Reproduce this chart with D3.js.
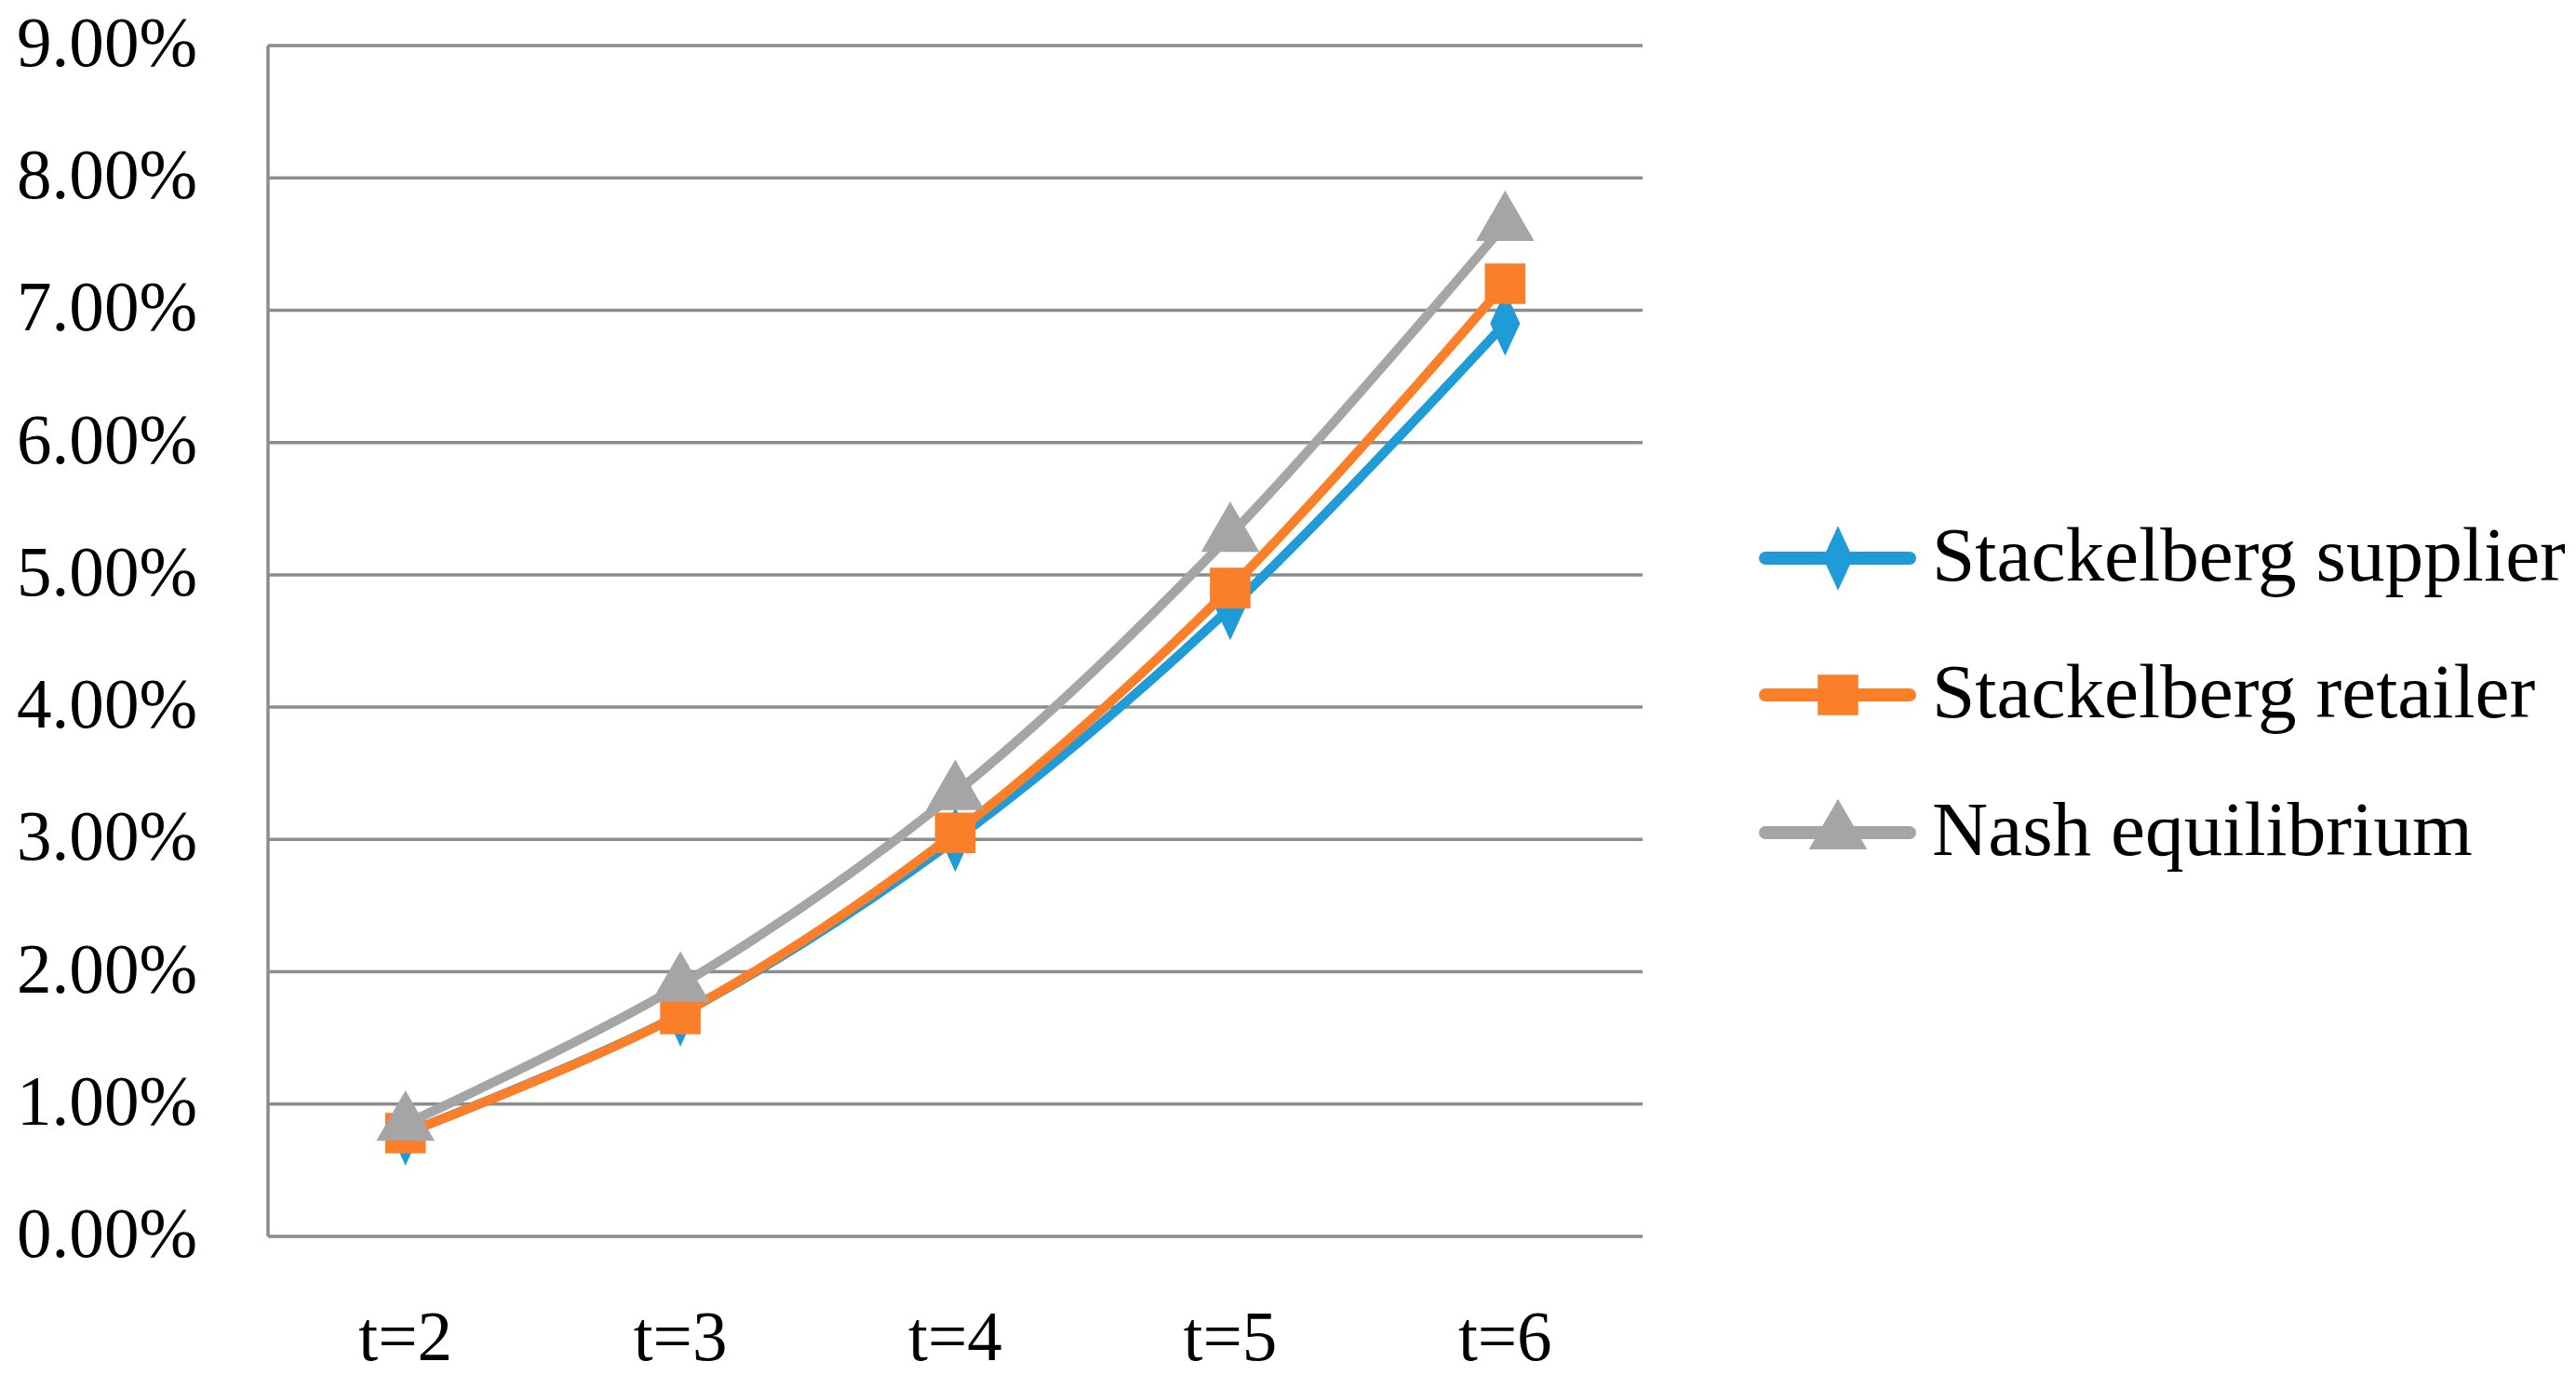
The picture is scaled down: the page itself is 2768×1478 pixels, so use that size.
<!DOCTYPE html>
<html><head><meta charset="utf-8">
<script src="https://cdn.jsdelivr.net/npm/d3@7"></script>
<style>body{margin:0;background:#fff}</style></head>
<body><svg id="c" width="2768" height="1478"></svg>
<script>
const categories=["t=2","t=3","t=4","t=5","t=6"];
const supplier=[0.0078,0.0168,0.0300,0.0475,0.0690];
const retailer=[0.0078,0.0168,0.0305,0.0490,0.0720];
const nash=[0.0085,0.0190,0.0335,0.0530,0.0765];
const yTicks=[0,0.01,0.02,0.03,0.04,0.05,0.06,0.07,0.08,0.09];
const seriesNames=["Stackelberg supplier","Stackelberg retailer","Nash equilibrium"];
const colors=["#1f9bd7","#fb7f28","#a5a5a5"];
const series=[supplier,retailer,nash];
const font="Liberation Serif";
const svg=d3.select("#c");
const L=288,R=1765,T=49,B=1329;
const x=d3.scaleBand().domain(categories).range([L,R]);
const y=d3.scaleLinear().domain([0,0.09]).range([B,T]);
const g=svg.append("g");
g.selectAll("line.g").data(yTicks).join("line").attr("x1",L).attr("x2",R)
 .attr("y1",d=>y(d)).attr("y2",d=>y(d)).attr("stroke","#8c8c8c").attr("stroke-width",3.5);
g.append("line").attr("x1",L).attr("x2",L).attr("y1",T).attr("y2",B).attr("stroke","#8c8c8c").attr("stroke-width",3.5);
const yt=g.selectAll("text.y").data(yTicks).join("text").attr("class","ax").attr("x",212).attr("y",d=>y(d)+22)
 .attr("text-anchor","end").attr("font-family",font).attr("font-size",68).text(d3.format(".2%"));
g.selectAll("text.x").data(categories).join("text").attr("class","ax").attr("x",d=>x(d)+x.bandwidth()/2).attr("y",1462)
 .attr("text-anchor","middle").attr("font-family",font).attr("font-size",68).text(d=>d);
const w9=yt.nodes()[9].getComputedTextLength();
g.selectAll("text.ax").attr("font-size",68*194/w9);
const cx=d=>x(d)+x.bandwidth()/2;
const line=d3.line().x((d,i)=>cx(categories[i])).y(d=>y(d)).curve(d3.curveCatmullRom.alpha(0.5));
const syms=[d3.symbolDiamond,d3.symbolSquare,d3.symbolTriangle];
const sizes=[1400,1900,1700];
series.forEach((s,k)=>{
 g.append("path").attr("d",line(s)).attr("fill","none").attr("stroke",colors[k]).attr("stroke-width",10).attr("stroke-linecap","round");
 g.selectAll(null).data(s).join("path").attr("transform",(d,i)=>`translate(${cx(categories[i])},${y(d)})${k==0?" scale(0.8,1)":""}`)
  .attr("d",d3.symbol(syms[k],sizes[k])).attr("fill",colors[k]);
});
const ly=[600,747,895];
const lt=[];
seriesNames.forEach((n,k)=>{
 g.append("line").attr("x1",1897).attr("x2",2052).attr("y1",ly[k]).attr("y2",ly[k]).attr("stroke",colors[k]).attr("stroke-width",14).attr("stroke-linecap","round");
 g.append("path").attr("transform",`translate(1975,${ly[k]})${k==0?" scale(0.8,1)":""}`).attr("d",d3.symbol(syms[k],sizes[k])).attr("fill",colors[k]);
 lt.push(g.append("text").attr("class","lg").attr("x",2076).attr("y",ly[k]+24).attr("font-family",font).attr("font-size",68).text(n));
});
const w0=lt[0].node().getComputedTextLength();
g.selectAll("text.lg").attr("font-size",68*681/w0);
</script></body></html>
